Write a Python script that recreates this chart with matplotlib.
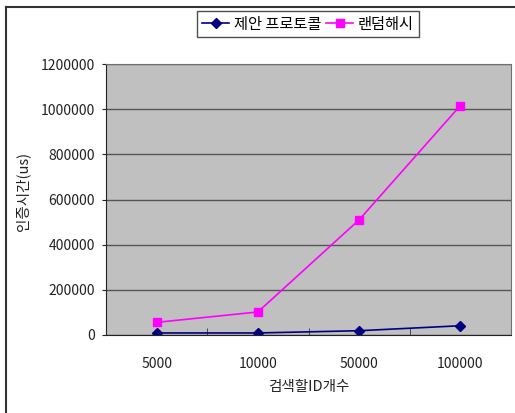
import matplotlib.pyplot as plt
from matplotlib.lines import Line2D

plt.rcParams['font.family'] = ['Noto Sans CJK KR', 'DejaVu Sans']

categories = ['5000', '10000', '50000', '100000']
proposed = [9000, 9000, 19000, 41000]
random_hash = [56000, 102000, 510000, 1016000]
y_ticks = [0, 200000, 400000, 600000, 800000, 1000000, 1200000]

W, H = 515, 413
fig = plt.figure(figsize=(W / 100, H / 100), dpi=100)
ax = fig.add_axes([106 / W, 1 - 335 / H, 405 / W, 271 / H])
ax.set_facecolor('#C0C0C0')

x = range(len(categories))
ax.plot(x, proposed, color='#000080', marker='D', markersize=5, linewidth=1.2,
        label='제안 프로토콜')
ax.plot(x, random_hash, color='#FF00FF', marker='s', markersize=6, linewidth=1.2,
        label='랜덤해시')

ax.set_xlim(-0.5, len(categories) - 0.5)
ax.set_ylim(0, 1200000)
ax.set_yticks(y_ticks)
ax.set_yticklabels([str(v) for v in y_ticks])
ax.yaxis.grid(True, color='#555555', linewidth=1)
ax.set_axisbelow(True)

ax.set_xticks(list(x))
ax.set_xticklabels(categories)
ax.tick_params(axis='x', length=0, pad=16, labelsize=10, colors='#222222')
ax.set_xticks([0.5, 1.5, 2.5], minor=True)
ax.tick_params(axis='x', which='minor', direction='in', length=5, color='#333333')
ax.tick_params(axis='y', length=3, pad=5, labelsize=10, colors='#222222')

for side in ['left', 'bottom']:
    ax.spines[side].set_color('#222222')
for side in ['top', 'right']:
    ax.spines[side].set_color('#707070')

ax.set_ylabel('인증시간(us)', fontsize=10.5, color='#222222')
ax.yaxis.set_label_coords((30 - 106) / 405, 0.53)
ax.set_xlabel('검색할ID개수', fontsize=10.5, color='#222222', labelpad=6)

leg = ax.legend(loc='center', bbox_to_anchor=(308 / W, 1 - 24 / H),
                bbox_transform=fig.transFigure, ncol=2, fontsize=11,
                frameon=True, fancybox=False, handlelength=1.8,
                columnspacing=0.3, handletextpad=0.3, borderpad=0.3,
                borderaxespad=0)
leg.get_frame().set_edgecolor('#222222')
leg.get_frame().set_linewidth(1)

# outer chart border (only top and left visible)
fig.add_artist(Line2D([6 / W, 1], [1 - 7 / H, 1 - 7 / H], color='#333333', linewidth=1.5))
fig.add_artist(Line2D([6 / W, 6 / W], [0, 1 - 7 / H], color='#333333', linewidth=1.5))

fig.savefig('out.png', dpi=100)
